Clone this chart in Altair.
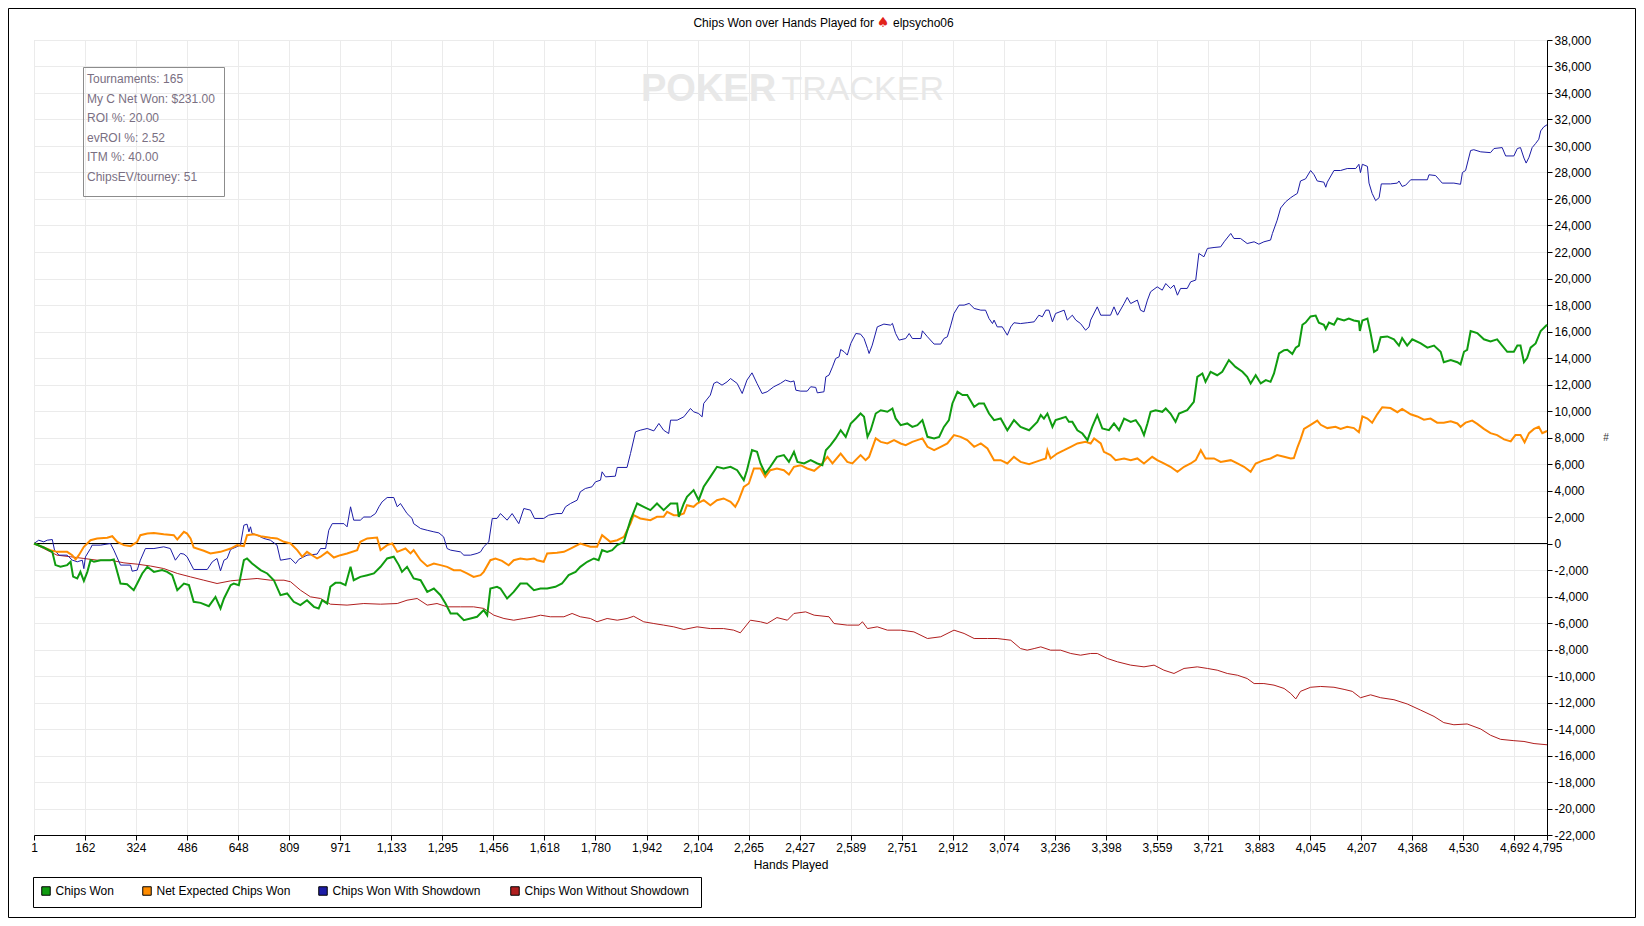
import altair as alt
import pandas as pd

# ---------------- data ----------------
chips_won = [(1,0),(32,-300),(48,-500),(59,-630),(69,-1630),(85,-1760),(106,-1630),(117,-1380),(125,-2500),(138,-2640),(148,-2140),(159,-2820),(170,-2140),(180,-1260),(191,-1380),(212,-1260),(243,-1260),(254,-1200),(275,-3020),(296,-3070),(317,-3520),(328,-3020),(344,-2260),(360,-1760),(381,-2140),(407,-2010),(423,-2140),(439,-2390),(455,-3520),(476,-3020),(492,-3140),(507,-4400),(529,-4480),(555,-4730),(576,-4030),(592,-4900),(603,-4150),(624,-3145),(634,-3020),(650,-3145),(666,-1260),(676,-1130),(692,-1510),(719,-2010),(740,-2260),(761,-2770),(782,-3900),(803,-3770),(824,-4400),(845,-4650),(866,-4280),(888,-4780),(903,-4900),(914,-4280),(930,-4530),(940,-3270),(956,-2970),(972,-2970),(988,-3145),(1004,-1760),(1014,-2770),(1035,-2520),(1057,-2390),(1078,-2260),(1099,-1760),(1120,-1130),(1141,-1000),(1157,-1630),(1167,-2140),(1183,-1760),(1204,-2640),(1226,-2770),(1247,-3650),(1268,-3400),(1289,-3900),(1305,-4530),(1321,-5280),(1342,-5280),(1363,-5790),(1384,-5660),(1405,-5530),(1426,-5030),(1437,-5410),(1447,-3400),(1468,-3270),(1479,-3400),(1500,-4150),(1521,-3650),(1542,-3020),(1563,-3020),(1585,-3520),(1606,-3400),(1627,-3400),(1653,-3270),(1674,-3020),(1695,-2390),(1717,-2140),(1732,-1760),(1754,-1380),(1775,-1130),(1790,-1260),(1801,-500),(1817,-630),(1833,-500),(1849,-125),(1870,125),(1891,1760),(1912,3020),(1933,2770),(1954,2520),(1975,3020),(1996,2520),(2018,3020),(2039,3020),(2044,2010),(2060,3020),(2070,3520),(2091,4030),(2107,3270),(2123,4280),(2144,5030),(2165,5790),(2186,5660),(2208,5790),(2229,5530),(2250,4780),(2260,5530),(2276,7045),(2292,6920),(2303,6040),(2318,5280),(2334,5790),(2355,6540),(2377,6670),(2393,6160),(2409,6920),(2420,6160),(2441,6040),(2462,6290),(2483,6040),(2499,5910),(2510,7040),(2525,7420),(2541,7930),(2557,8550),(2573,8050),(2589,9060),(2605,9430),(2620,9810),(2631,9560),(2642,8050),(2652,8550),(2668,9810),(2684,10060),(2705,9940),(2721,10190),(2731,9440),(2747,8930),(2768,9060),(2784,8800),(2800,8930),(2816,9310),(2832,8050),(2853,7930),(2869,8050),(2884,8800),(2900,9310),(2911,10570),(2927,11450),(2943,11200),(2958,11200),(2980,10320),(2995,10570),(3011,10570),(3027,9810),(3043,9310),(3064,9440),(3085,8550),(3106,9310),(3127,8800),(3154,8550),(3180,9180),(3191,9690),(3201,9430),(3212,9810),(3228,8800),(3238,9310),(3254,9430),(3270,9560),(3280,9180),(3291,9180),(3307,8550),(3323,8300),(3339,7800),(3354,8800),(3370,9690),(3386,8680),(3407,8550),(3423,9060),(3439,8550),(3455,9430),(3476,9180),(3492,9310),(3507,8800),(3518,8180),(3529,9060),(3539,9940),(3555,10060),(3576,9940),(3587,10190),(3602,9810),(3618,9180),(3629,9810),(3655,10060),(3676,10690),(3687,12580),(3703,12830),(3713,12200),(3729,12960),(3750,12700),(3766,12960),(3787,13840),(3808,13330),(3830,12960),(3845,12580),(3856,12080),(3872,12700),(3888,12080),(3904,12330),(3919,12200),(3930,12830),(3946,14340),(3962,14590),(3972,14620),(3988,14310),(3999,14780),(4009,14940),(4020,16510),(4030,16670),(4046,17140),(4062,17200),(4072,16670),(4088,16510),(4094,16200),(4104,16670),(4120,16510),(4131,16980),(4152,16830),(4167,16980),(4183,16830),(4199,16760),(4202,16040),(4210,16830),(4226,16980),(4236,15880),(4247,14470),(4257,14620),(4268,15570),(4289,15630),(4310,15410),(4326,14940),(4336,15500),(4352,14940),(4368,15410),(4395,15100),(4416,14780),(4437,14940),(4458,14470),(4468,13680),(4490,13840),(4511,13680),(4521,13520),(4532,14470),(4542,14620),(4553,16040),(4574,15880),(4595,15410),(4616,15250),(4637,15410),(4653,14940),(4669,14470),(4690,14470),(4701,14940),(4711,14940),(4722,13680),(4732,14000),(4743,14780),(4759,15100),(4775,16040),(4795,16510)]

net_expected = [(1,0),(22,-200),(53,-500),(74,-630),(106,-630),(122,-880),(133,-1200),(143,-880),(159,-250),(180,250),(201,380),(233,430),(249,550),(265,125),(286,-125),(307,-200),(328,125),(338,630),(360,750),(381,800),(412,700),(444,630),(455,300),(476,880),(486,750),(497,380),(507,-300),(539,-550),(560,-750),(592,-630),(624,-380),(645,-125),(666,-200),(676,630),(698,700),(719,550),(750,430),(771,380),(793,125),(814,0),(835,-500),(851,-1000),(866,-630),(898,-1130),(909,-1000),(930,-630),(951,-1060),(972,-880),(993,-750),(1025,-500),(1035,125),(1057,380),(1088,450),(1099,-500),(1120,-125),(1136,0),(1152,-630),(1178,-380),(1194,-750),(1204,-500),(1226,-1260),(1247,-1710),(1268,-1510),(1289,-1630),(1310,-1760),(1331,-2010),(1352,-2010),(1373,-2260),(1394,-2520),(1416,-2390),(1426,-2140),(1447,-1260),(1463,-1130),(1484,-1310),(1505,-1640),(1521,-1260),(1542,-1130),(1563,-1200),(1585,-1130),(1595,-1260),(1616,-1380),(1627,-750),(1658,-700),(1680,-630),(1701,-380),(1732,0),(1764,-250),(1785,-250),(1801,630),(1827,125),(1849,250),(1870,500),(1891,1510),(1901,2140),(1922,1890),(1954,1760),(1975,2010),(1996,2010),(2007,2390),(2028,2140),(2044,2140),(2060,2260),(2070,2890),(2091,2770),(2102,3020),(2123,3270),(2144,2890),(2165,3270),(2186,3400),(2208,3145),(2223,2770),(2234,3270),(2250,4280),(2266,4530),(2282,5660),(2303,5660),(2318,5030),(2334,5530),(2355,5660),(2377,5530),(2393,5210),(2409,5790),(2430,5910),(2451,5660),(2473,5490),(2494,5910),(2515,6540),(2531,6040),(2557,6790),(2578,6160),(2594,6040),(2620,6670),(2636,6290),(2647,6540),(2668,7930),(2684,7670),(2705,7550),(2726,7800),(2747,7550),(2763,7420),(2784,7670),(2800,7800),(2816,7930),(2832,7300),(2853,7040),(2874,7300),(2895,7550),(2916,8180),(2937,8050),(2958,7800),(2980,7300),(3001,7550),(3022,7170),(3043,6290),(3064,6290),(3085,6040),(3106,6540),(3127,6160),(3154,5990),(3175,6160),(3191,6290),(3207,6420),(3212,7040),(3222,6420),(3243,6790),(3265,7040),(3286,7300),(3307,7550),(3333,7670),(3349,7550),(3360,7930),(3381,7550),(3391,6920),(3412,6670),(3428,6290),(3455,6420),(3476,6290),(3497,6420),(3518,6040),(3544,6540),(3560,6290),(3581,6040),(3602,5790),(3624,5410),(3645,5790),(3666,6040),(3682,6290),(3698,7040),(3713,6420),(3740,6420),(3761,6160),(3793,6290),(3814,6040),(3835,5790),(3856,5410),(3872,6040),(3898,6290),(3919,6420),(3940,6670),(3962,6540),(3983,6420),(3993,6450),(4004,7230),(4014,7860),(4025,8650),(4046,8960),(4067,9280),(4078,8960),(4099,8710),(4125,8810),(4141,8650),(4162,8810),(4183,8710),(4199,8400),(4210,9590),(4226,9430),(4241,9120),(4257,9750),(4273,10280),(4299,10220),(4321,9910),(4336,10160),(4363,9750),(4384,9590),(4405,9340),(4426,9430),(4447,9120),(4468,9120),(4490,9220),(4511,9060),(4521,8810),(4537,9120),(4558,9280),(4574,9030),(4595,8650),(4616,8330),(4637,8180),(4659,7860),(4680,7710),(4695,8180),(4711,8180),(4724,7640),(4738,8330),(4754,8650),(4769,8810),(4780,8330),(4795,8490)]

with_showdown = [(1,0),(16,250),(32,125),(43,250),(59,300),(66,-500),(80,-880),(106,-880),(122,-1250),(138,-1380),(154,-1260),(159,-1900),(164,-1010),(180,-380),(185,-125),(212,-125),(243,0),(254,-500),(275,-1630),(307,-1630),(312,-2090),(328,-2010),(338,-1260),(354,-380),(381,-380),(412,-250),(433,-380),(449,-1260),(465,-750),(476,-800),(486,-1000),(507,-1960),(550,-1960),(566,-1380),(581,-1130),(592,-2060),(603,-1260),(613,-1130),(624,-450),(655,-125),(666,1380),(676,1460),(682,880),(687,1260),(692,750),(708,630),(729,380),(750,250),(771,-125),(782,-1260),(814,-1130),(830,-1510),(840,-1200),(866,-880),(898,-800),(909,-380),(925,-380),(935,1000),(946,1500),(983,1500),(993,1260),(1004,2770),(1014,1760),(1035,1760),(1046,2000),(1067,2000),(1083,2260),(1094,2770),(1104,3145),(1120,3470),(1141,3470),(1152,2770),(1162,3020),(1183,2260),(1199,1890),(1204,1500),(1226,1130),(1247,1000),(1268,880),(1284,800),(1299,500),(1310,-380),(1321,-500),(1352,-630),(1363,-880),(1384,-880),(1405,-750),(1416,-630),(1426,-250),(1442,125),(1453,1890),(1468,1890),(1479,2260),(1500,1760),(1516,2260),(1537,1500),(1553,2640),(1574,2520),(1587,1890),(1616,1890),(1632,2140),(1658,2260),(1674,2260),(1685,2770),(1701,3020),(1722,3270),(1732,3900),(1748,4150),(1769,4280),(1780,4650),(1796,4780),(1801,5410),(1812,5030),(1843,5080),(1849,5740),(1880,5740),(1891,6790),(1907,8430),(1922,8550),(1944,8680),(1965,8500),(1981,9060),(1996,8550),(2012,8300),(2018,9310),(2039,9310),(2060,9560),(2081,10190),(2091,9940),(2107,9810),(2118,9560),(2123,10570),(2144,11200),(2155,12080),(2165,12200),(2181,11950),(2197,12200),(2208,12450),(2229,12080),(2245,11320),(2260,12330),(2276,12880),(2292,12080),(2308,11320),(2324,11450),(2345,11830),(2366,12080),(2382,12330),(2399,12200),(2409,12270),(2415,11570),(2430,11500),(2451,11500),(2462,11830),(2478,11780),(2483,11370),(2504,11450),(2510,12580),(2520,12710),(2531,13330),(2541,13960),(2552,14090),(2557,14640),(2568,14470),(2578,14220),(2589,15100),(2605,15850),(2620,15800),(2631,15470),(2642,14720),(2647,14340),(2657,14970),(2673,16350),(2694,16560),(2715,16480),(2721,16610),(2731,15850),(2742,15350),(2763,15470),(2774,15850),(2784,15470),(2811,15470),(2816,16050),(2832,15600),(2853,15050),(2874,15050),(2884,15470),(2895,15600),(2906,16480),(2916,17360),(2932,17990),(2948,17990),(2964,18120),(2980,17740),(3001,17610),(3016,17610),(3027,16980),(3038,16600),(3043,16860),(3053,16350),(3069,16350),(3085,15720),(3096,16350),(3106,16660),(3127,16600),(3148,16660),(3170,16730),(3185,17230),(3196,17110),(3207,17610),(3217,17610),(3228,16730),(3238,17360),(3265,17610),(3275,16860),(3291,17230),(3302,16860),(3317,16600),(3333,16100),(3344,16350),(3349,16860),(3370,17860),(3381,17230),(3412,17230),(3423,17860),(3434,17230),(3455,18110),(3465,18570),(3476,18110),(3497,18370),(3507,17610),(3518,17480),(3529,18370),(3539,19000),(3560,19370),(3576,19120),(3587,19620),(3602,19250),(3613,19500),(3624,18740),(3634,19250),(3655,19250),(3666,19750),(3682,19880),(3692,21890),(3708,21640),(3719,22270),(3740,22340),(3761,22390),(3772,22770),(3793,23400),(3803,23020),(3824,23020),(3845,22640),(3867,22770),(3882,22590),(3898,22770),(3919,22900),(3925,23400),(3940,24400),(3951,25320),(3967,25790),(3983,26100),(3993,26260),(4004,26420),(4014,27360),(4030,27520),(4046,28150),(4057,27830),(4067,27360),(4088,27270),(4094,26890),(4099,27270),(4120,28150),(4141,28150),(4162,28300),(4189,28300),(4199,28620),(4204,27990),(4210,28620),(4226,28460),(4231,27200),(4241,26420),(4252,25880),(4263,26100),(4270,27140),(4299,27140),(4321,27200),(4326,27360),(4336,26950),(4347,27040),(4363,27450),(4416,27450),(4421,27830),(4442,27770),(4463,27200),(4500,27200),(4521,27110),(4527,28000),(4537,28150),(4553,29660),(4563,29720),(4585,29560),(4616,29500),(4627,29810),(4653,29880),(4664,29250),(4690,29250),(4701,29810),(4711,29880),(4722,29090),(4729,28710),(4738,29150),(4748,29880),(4759,30190),(4769,30510),(4775,31140),(4785,31450),(4795,31600)]

without_showdown = [(1,0),(32,-380),(74,-880),(117,-1000),(159,-1130),(201,-1260),(243,-1260),(286,-1460),(328,-1560),(370,-1700),(412,-1890),(455,-2260),(497,-2520),(539,-2770),(581,-3020),(624,-2820),(666,-2720),(708,-2640),(750,-2770),(793,-2770),(814,-2890),(845,-3520),(877,-4025),(909,-4150),(940,-4580),(993,-4650),(1046,-4530),(1099,-4580),(1152,-4530),(1183,-4280),(1215,-4150),(1247,-4650),(1278,-4530),(1310,-4780),(1352,-4780),(1394,-4780),(1426,-4900),(1458,-5410),(1490,-5660),(1521,-5790),(1553,-5660),(1585,-5530),(1606,-5410),(1637,-5530),(1680,-5530),(1706,-5280),(1732,-5530),(1764,-5660),(1785,-5910),(1817,-5660),(1849,-5790),(1880,-5660),(1901,-5490),(1933,-5910),(1965,-6040),(1996,-6160),(2028,-6290),(2060,-6490),(2102,-6290),(2144,-6420),(2186,-6420),(2218,-6540),(2239,-6740),(2271,-5790),(2303,-5910),(2324,-6040),(2355,-5590),(2388,-5790),(2409,-5280),(2446,-5160),(2473,-5410),(2520,-5530),(2536,-6040),(2578,-6160),(2615,-6160),(2626,-5910),(2642,-6420),(2673,-6290),(2705,-6540),(2747,-6540),(2789,-6670),(2832,-7170),(2874,-7040),(2916,-6540),(2948,-6790),(2980,-7170),(3022,-7170),(3053,-7170),(3096,-7300),(3127,-7930),(3148,-8050),(3170,-7930),(3191,-7800),(3222,-8050),(3254,-8050),(3286,-8300),(3317,-8430),(3349,-8300),(3370,-8300),(3402,-8680),(3434,-8930),(3476,-9180),(3518,-9310),(3550,-9180),(3581,-9560),(3613,-9810),(3645,-9430),(3687,-9310),(3719,-9430),(3750,-9560),(3782,-9810),(3814,-9940),(3845,-10190),(3867,-10570),(3898,-10570),(3930,-10690),(3962,-10940),(3983,-11320),(3999,-11730),(4014,-11160),(4046,-10850),(4078,-10790),(4120,-10850),(4152,-11010),(4178,-11160),(4204,-11640),(4236,-11420),(4268,-11640),(4310,-11790),(4352,-12110),(4395,-12580),(4437,-13050),(4468,-13520),(4500,-13680),(4542,-13620),(4585,-14000),(4616,-14470),(4648,-14780),(4690,-14880),(4722,-14940),(4754,-15100),(4795,-15190)]

series_names = ["Chips Won", "Net Expected Chips Won", "Chips Won With Showdown", "Chips Won Without Showdown"]
series_colors = ["#109c10", "#ff8c00", "#1c1ca6", "#b01e1e"]
series_widths = [2, 2, 1, 1]

x_ticks = [1, 162, 324, 486, 648, 809, 971, 1133, 1295, 1456, 1618, 1780, 1942, 2104, 2265,
           2427, 2589, 2751, 2912, 3074, 3236, 3398, 3559, 3721, 3883, 4045, 4207, 4368,
           4530, 4692, 4795]
y_ticks = list(range(-22000, 38001, 2000))

info_lines = ["Tournaments: 165", "My C Net Won: $231.00", "ROI %: 20.00",
              "evROI %: 2.52", "ITM %: 40.00", "ChipsEV/tourney: 51"]

title_text = "Chips Won over Hands Played for"
player_name = "elpsycho06"

# legend layout (pixel positions of the legend swatches, view coordinates)
legend_swatch_x = [12, 113, 289, 481]
legend_y = 851

# ---------------- build ----------------
all_series = [chips_won, net_expected, with_showdown, without_showdown]
frames = []
for name, pts in zip(series_names, all_series):
    frames.append(pd.DataFrame({"series": name,
                                "hand": [p[0] for p in pts],
                                "chips": [p[1] for p in pts]}))

FONT = "Liberation Sans"
x_scale = alt.Scale(domain=[1, 4795], nice=False, zero=False)
y_scale = alt.Scale(domain=[-22000, 38000], nice=False, zero=False)
color_scale = alt.Scale(domain=series_names, range=series_colors)

x_axis = alt.Axis(values=x_ticks, format=",d", title="Hands Played", labelFlush=False,
                  labelOverlap=False, tickSize=5, labelPadding=2, grid=True,
                  gridColor="#ebebeb", domainColor="black", tickColor="black",
                  labelFontSize=12, titleFontSize=12, titleFontWeight="normal",
                  titlePadding=6, labelColor="black", titleColor="black",
                  labelFont=FONT, titleFont=FONT)
y_axis = alt.Axis(orient="right", values=y_ticks, format=",d", title=None,
                  labelExpr="replace(datum.label, '\u2212', '-')",
                  labelOverlap=False, labelFlush=False, tickSize=5, labelPadding=2,
                  grid=True, gridColor="#ebebeb", domainColor="black",
                  tickColor="black", labelFontSize=12, labelColor="black",
                  labelFont=FONT)

one = pd.DataFrame({"k": [0]})

outer = alt.Chart(one).mark_rect(fillOpacity=0, stroke="black", strokeWidth=1).encode(
    x=alt.value(-25.5), x2=alt.value(1601.5), y=alt.value(-31.5), y2=alt.value(877.5))

wm1 = alt.Chart(one).mark_text(text="POKER", align="left", baseline="middle",
                               font=FONT, fontSize=38,
                               fontWeight="bold", color="#e8e8e8").encode(
    x=alt.value(607), y=alt.value(50))
wm2 = alt.Chart(one).mark_text(text="TRACKER", align="right", baseline="middle",
                               font=FONT, fontSize=34,
                               fontWeight="normal", color="#e8e8e8").encode(
    x=alt.value(910), y=alt.value(50))

info_box = alt.Chart(one).mark_rect(fillOpacity=0, stroke="#8c8c8c", strokeWidth=1).encode(
    x=alt.value(49.5), x2=alt.value(190.5), y=alt.value(27.5), y2=alt.value(156.5))
info_text = alt.Chart(one).mark_text(text="\n".join(info_lines), lineBreak="\n",
                                     lineHeight=19.5, align="left", baseline="top",
                                     font=FONT, fontSize=12, color="#7a6f82").encode(
    x=alt.value(53), y=alt.value(34))

zero_rule = alt.Chart(pd.DataFrame({"chips": [0]})).mark_rule(color="black", strokeWidth=1).encode(
    y=alt.Y("chips:Q", scale=y_scale, axis=y_axis))

line_layers = []
for i in [3, 2, 1, 0]:
    line_layers.append(
        alt.Chart(frames[i]).mark_line(interpolate="linear", strokeWidth=series_widths[i]).encode(
            x=alt.X("hand:Q", scale=x_scale, axis=x_axis),
            y=alt.Y("chips:Q", scale=y_scale, axis=y_axis),
            color=alt.Color("series:N", scale=color_scale, legend=None),
        )
    )

# legend drawn as a boxed row of swatches + labels below the plot
legend_layers = [
    alt.Chart(one).mark_rect(fill="white", stroke="black", strokeWidth=1).encode(
        x=alt.value(-0.5), x2=alt.value(667.5), y=alt.value(837.5), y2=alt.value(867.5))
]
for i, name in enumerate(series_names):
    legend_layers.append(
        alt.Chart(one).mark_square(size=72, filled=True, color=series_colors[i],
                                   stroke="black", strokeWidth=1, opacity=1).encode(
            x=alt.value(legend_swatch_x[i]), y=alt.value(legend_y)))
    legend_layers.append(
        alt.Chart(one).mark_text(text=name, align="left", baseline="middle", font=FONT,
                                 fontSize=12, color="black").encode(
            x=alt.value(legend_swatch_x[i] + 9.5), y=alt.value(legend_y)))

t1 = alt.Chart(one).mark_text(text=title_text, align="right", baseline="middle",
                              font=FONT, fontSize=12, color="black").encode(
    x=alt.value(840), y=alt.value(-17))
t2 = alt.Chart(one).mark_text(text="\u2660", align="center", baseline="middle",
                              font="DejaVu Sans", fontSize=14, color="#e2231a").encode(
    x=alt.value(849), y=alt.value(-17))
t3 = alt.Chart(one).mark_text(text=player_name, align="left", baseline="middle",
                              font=FONT, fontSize=12, color="black").encode(
    x=alt.value(859), y=alt.value(-17))
hash_mark = alt.Chart(one).mark_text(text="#", align="center", baseline="middle",
                                     font=FONT, fontSize=10, color="#333333").encode(
    x=alt.value(1572), y=alt.value(398))

chart = alt.layer(outer, wm1, wm2, info_box, info_text, zero_rule, *line_layers,
                  *legend_layers, t1, t2, t3, hash_mark).properties(
    width=1513, height=795,
    autosize=alt.AutoSizeParams(type="none"),
    padding={"left": 26, "top": 32, "right": 89, "bottom": 83},
    background="white",
).configure_view(stroke="black", strokeWidth=1).configure(font=FONT)

chart.save("out.html", embed_options={"renderer": "svg", "actions": False})
